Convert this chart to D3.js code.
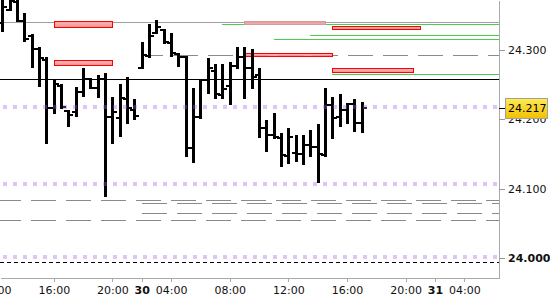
<!DOCTYPE html>
<html>
<head>
<meta charset="utf-8">
<script src="https://cdn.jsdelivr.net/npm/d3@7"></script>
<style>
  html, body { margin: 0; padding: 0; background: #fff; }
  svg { display: block; font-family: "DejaVu Sans", Verdana, sans-serif; }
</style>
</head>
<body>
<svg id="chart" width="550" height="300"></svg>
<script>
// ---- DATA ----
// 30-minute bars: day 29 12:30–21:30, day 30 02:00–17:00
const barTimes = [
  "29 12:30","29 13:00","29 13:30","29 14:00","29 14:30","29 15:00","29 15:30","29 16:00",
  "29 16:30","29 17:00","29 17:30","29 18:00","29 18:30","29 19:00","29 19:30","29 20:00",
  "29 20:30","29 21:00","29 21:30",
  "30 02:00","30 02:30","30 03:00","30 03:30","30 04:00","30 04:30","30 05:00","30 05:30",
  "30 06:00","30 06:30","30 07:00","30 07:30","30 08:00","30 08:30","30 09:00","30 09:30",
  "30 10:00","30 10:30","30 11:00","30 11:30","30 12:00","30 12:30","30 13:00","30 13:30",
  "30 14:00","30 14:30","30 15:00","30 15:30","30 16:00","30 16:30","30 17:00"
];
const opens  = [24.339,24.358,24.369,24.342,24.320,24.301,24.286,24.217,24.248,24.212,
                24.211,24.240,24.258,24.245,24.258,24.204,24.202,24.229,24.214,24.274,
                24.291,24.325,24.329,24.310,24.294,24.290,24.159,24.204,24.257,24.270,
                24.235,24.248,24.277,24.290,24.274,24.264,24.188,24.178,24.173,24.147,
                24.152,24.150,24.163,24.160,24.149,24.221,24.204,24.214,24.222,24.195];
const highs  = [24.379,24.376,24.375,24.353,24.323,24.304,24.290,24.258,24.251,24.214,
                24.247,24.274,24.260,24.264,24.267,24.232,24.251,24.261,24.229,24.312,
                24.337,24.343,24.330,24.325,24.296,24.291,24.245,24.258,24.289,24.280,
                24.280,24.283,24.304,24.304,24.301,24.274,24.199,24.209,24.180,24.188,
                24.178,24.178,24.185,24.193,24.245,24.232,24.237,24.224,24.229,24.225];
const lows   = [24.326,24.356,24.340,24.312,24.274,24.247,24.165,24.208,24.215,24.189,
                24.204,24.232,24.244,24.231,24.088,24.165,24.175,24.193,24.199,24.273,
                24.289,24.323,24.309,24.290,24.276,24.146,24.137,24.201,24.237,24.229,
                24.229,24.221,24.273,24.229,24.244,24.173,24.153,24.172,24.132,24.136,
                24.139,24.134,24.146,24.109,24.146,24.172,24.189,24.193,24.182,24.180];
const closes = [24.362,24.371,24.342,24.316,24.301,24.289,24.217,24.251,24.218,24.206,
                24.240,24.258,24.245,24.258,24.204,24.211,24.231,24.217,24.205,24.293,
                24.320,24.333,24.312,24.296,24.290,24.159,24.204,24.257,24.274,24.237,
                24.244,24.277,24.290,24.274,24.261,24.188,24.178,24.175,24.149,24.175,
                24.150,24.163,24.160,24.150,24.221,24.202,24.214,24.222,24.195,24.217];

const currentPrice = 24.217;

// price axis ticks
const priceTicks = [24.0, 24.1, 24.2, 24.3];
// time axis ticks (bar index → label); indices beyond data are future slots
const timeTickIndex  = [-1, 7, 15, 19, 23, 31, 39, 47, 55, 59, 63];
const timeTickLabels = ["12:00","16:00","20:00","30","04:00","08:00","12:00","16:00","20:00","31","04:00"];
const dayLabels = ["30","31"];

// horizontal levels: price, starting bar index (null = whole width), kind
const levelPrices = [24.3403,24.3374,24.3216,24.3158,24.2928,24.2654,24.2582,24.2172,
                     24.1070,24.0840,24.0796,24.0652,24.0551,24.0019,23.9947];
const levelStart  = [null,30,42,37,19,45,null,null,null,null,19,19,null,null,null];
const levelKinds  = ["gray","green","green","green","dash","green","black","dot",
                     "dot","dash","dash2","dash2","dash","dot","fine"];

// zones (boxes): start/end bar index, top/bottom price, kind
const zoneStart  = [7, 7, 33, 45, 33, 45];
const zoneEnd    = [15, 15, 44, 57, 45, 56];
const zoneTop    = [24.3420, 24.2856, 24.3420, 24.3346, 24.2957, 24.2740];
const zoneBottom = [24.3330, 24.2790, 24.3375, 24.3300, 24.2920, 24.2676];
const zoneKinds  = ["red","red","pink","red","red","red"];

// ---- LAYOUT / STYLES ----
const plotW = 499, plotH = 278;
const svg = d3.select("#chart");

const x = d3.scaleLinear().domain([-0.341, 67.735]).range([0, plotW]);
const y = d3.scaleLinear().domain([23.9716, 24.372]).range([plotH, 0]);

const levelStyle = {
  gray:  {stroke:"#a0a0a0", width:1, dash:null, opacity:1},
  green: {stroke:"#4ccc4c", width:1, dash:null, opacity:1},
  dash:  {stroke:"#8a8a8a", width:1, dash:"25,10", offset:4, opacity:1},
  dash2: {stroke:"#8a8a8a", width:1, dash:"25,10", offset:0, opacity:1},
  black: {stroke:"#000000", width:1, dash:null, opacity:1},
  dot:   {stroke:"#a060e0", width:4, dash:"4,6", offset:-3, opacity:0.36},
  fine:  {stroke:"#000000", width:1, dash:"4,3", offset:0, opacity:1}
};

const defs = svg.append("defs");
defs.append("clipPath").attr("id","plotclip")
  .append("rect").attr("x",0).attr("y",0).attr("width",plotW).attr("height",plotH);
const grad = defs.append("linearGradient").attr("id","gold")
  .attr("x1",0).attr("y1",0).attr("x2",0).attr("y2",1);
grad.append("stop").attr("offset","0%").attr("stop-color","#ffeb55");
grad.append("stop").attr("offset","100%").attr("stop-color","#f2bf00");
const zgrad = defs.append("linearGradient").attr("id","zonefill")
  .attr("x1",0).attr("y1",0).attr("x2",0).attr("y2",1);
zgrad.append("stop").attr("offset","0%").attr("stop-color","#fbb4b4");
zgrad.append("stop").attr("offset","100%").attr("stop-color","#f08585");

const plot = svg.append("g").attr("clip-path","url(#plotclip)");

const levels = levelPrices.map((p,i)=>({p, start:levelStart[i], kind:levelKinds[i]}));
const underLevels = levels.filter(d=>d.kind!=="dot");
const dotLevels = levels.filter(d=>d.kind==="dot");

function drawLevels(g, data){
  g.selectAll("line").data(data).join("line")
    .attr("x1", d => d.start==null ? 0 : Math.round(x(d.start)))
    .attr("x2", plotW)
    .attr("y1", d => Math.round(y(d.p)) + (levelStyle[d.kind].width%2 ? 0.5 : 0))
    .attr("y2", d => Math.round(y(d.p)) + (levelStyle[d.kind].width%2 ? 0.5 : 0))
    .attr("stroke", d => levelStyle[d.kind].stroke)
    .attr("stroke-width", d => levelStyle[d.kind].width)
    .attr("stroke-opacity", d => levelStyle[d.kind].opacity)
    .attr("stroke-dasharray", d => levelStyle[d.kind].dash)
    .attr("stroke-dashoffset", d => levelStyle[d.kind].offset || 0)
    .attr("shape-rendering","crispEdges");
}
drawLevels(plot.append("g"), underLevels);

// zones
const zones = zoneStart.map((s,i)=>({s, e:zoneEnd[i], t:zoneTop[i], b:zoneBottom[i], kind:zoneKinds[i]}));
plot.append("g").selectAll("rect").data(zones).join("rect")
  .attr("x", d => Math.round(x(d.s)) + 0.5)
  .attr("y", d => Math.round(y(d.t)) + 0.5)
  .attr("width", d => Math.round(x(d.e)) - Math.round(x(d.s)))
  .attr("height", d => Math.max(2, Math.round(y(d.b)) - Math.round(y(d.t))))
  .attr("fill", d => d.kind==="pink" ? "#eaa2a2" : "url(#zonefill)")
  .attr("fill-opacity", d => d.kind==="pink" ? 0.9 : 0.9)
  .attr("stroke", d => d.kind==="pink" ? "#d89a9a" : "#ff0000")
  .attr("stroke-width", 1)
  .attr("shape-rendering","crispEdges");

// OHLC bars
const bars = barTimes.map((t,i)=>({i, t, o:opens[i], h:highs[i], l:lows[i], c:closes[i]}));
const bg = plot.append("g").attr("fill","#000").attr("shape-rendering","crispEdges");
const bar = bg.selectAll("g").data(bars).join("g");
bar.append("rect")
  .attr("x", d => Math.round(x(d.i)) - 1)
  .attr("width", 3)
  .attr("y", d => Math.round(y(d.h)))
  .attr("height", d => Math.max(1, Math.round(y(d.l)) - Math.round(y(d.h))));
bar.append("rect")
  .attr("x", d => Math.round(x(d.i)) - 4)
  .attr("width", 3)
  .attr("y", d => Math.round(y(d.o)) - 1)
  .attr("height", 2);
bar.append("rect")
  .attr("x", d => Math.round(x(d.i)) + 2)
  .attr("width", 3)
  .attr("y", d => Math.round(y(d.c)) - 1)
  .attr("height", 2);

// dotted levels on top
drawLevels(plot.append("g"), dotLevels);

// ---- AXES ----
const yAxis = d3.axisRight(y).tickValues(priceTicks).tickFormat(d3.format(".3f"))
  .tickSize(6).tickSizeOuter(0).tickPadding(3);
const ya = svg.append("g").attr("transform",`translate(${plotW},0)`).call(yAxis);
ya.select(".domain").attr("stroke","#aaaaaa").attr("shape-rendering","crispEdges");
ya.selectAll(".tick line").attr("stroke","#999999").attr("shape-rendering","crispEdges");
ya.selectAll(".tick text").attr("fill","#111").attr("font-size",11)
  .attr("font-family","DejaVu Sans, Verdana, sans-serif")
  .attr("font-weight", d => d === 24.0 ? "bold" : "normal");

const xAxis = d3.axisBottom(x).tickValues(timeTickIndex)
  .tickFormat((d,i)=>timeTickLabels[i]).tickSize(4).tickSizeOuter(0).tickPadding(4);
const xa = svg.append("g").attr("transform",`translate(0,${plotH})`).call(xAxis);
xa.select(".domain").attr("stroke","#aaaaaa").attr("shape-rendering","crispEdges");
xa.selectAll(".tick line").attr("stroke","#aaaaaa").attr("shape-rendering","crispEdges");
xa.selectAll(".tick text").attr("fill","#111").attr("font-size",11)
  .attr("font-family","DejaVu Sans, Verdana, sans-serif")
  .attr("font-weight", (d,i) => dayLabels.includes(timeTickLabels[i]) ? "bold" : "normal");

// current price label
const cy = Math.round(y(currentPrice));
const cp = svg.append("g");
cp.append("line").attr("x1",plotW).attr("x2",plotW+7).attr("y1",cy+0.5).attr("y2",cy+0.5)
  .attr("stroke","#000").attr("shape-rendering","crispEdges");
cp.append("rect").attr("x",505.5).attr("y",cy-9.5).attr("width",42).attr("height",20)
  .attr("fill","url(#gold)").attr("stroke","#a0a0a0").attr("shape-rendering","crispEdges");
cp.append("text").attr("x",508).attr("y",cy).attr("dy","0.36em")
  .attr("font-size",11).attr("fill","#000")
  .attr("font-family","DejaVu Sans, Verdana, sans-serif")
  .text(d3.format(".3f")(currentPrice));
</script>
</body>
</html>
